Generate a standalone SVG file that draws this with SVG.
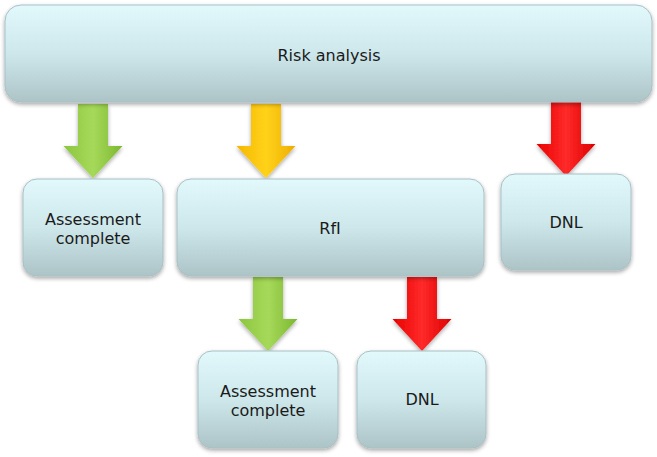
<svg xmlns="http://www.w3.org/2000/svg" width="657" height="457" viewBox="0 0 657 457">
<defs>
<linearGradient id="boxg" x1="0" y1="0" x2="0" y2="1">
<stop offset="0" stop-color="#e2f9fc"/>
<stop offset="0.5" stop-color="#cde7ea"/>
<stop offset="1" stop-color="#adc4c7"/>
</linearGradient>
<linearGradient id="green" x1="0" y1="0" x2="1" y2="0">
<stop offset="0" stop-color="#8cc63f"/>
<stop offset="0.5" stop-color="#a6d95a"/>
<stop offset="1" stop-color="#7cb82f"/>
</linearGradient>
<linearGradient id="yellow" x1="0" y1="0" x2="1" y2="0">
<stop offset="0" stop-color="#f5b800"/>
<stop offset="0.5" stop-color="#ffd21a"/>
<stop offset="1" stop-color="#eeae00"/>
</linearGradient>
<linearGradient id="red" x1="0" y1="0" x2="1" y2="0">
<stop offset="0" stop-color="#e80000"/>
<stop offset="0.5" stop-color="#ff2a2a"/>
<stop offset="1" stop-color="#dd0000"/>
</linearGradient>
<filter id="sh" x="-10%" y="-10%" width="120%" height="130%">
<feGaussianBlur in="SourceAlpha" stdDeviation="2"/>
<feOffset dx="0" dy="2" result="b"/>
<feComponentTransfer><feFuncA type="linear" slope="0.35"/></feComponentTransfer>
<feMerge><feMergeNode/><feMergeNode in="SourceGraphic"/></feMerge>
</filter>
<path id="arrow" d="M-15,0 H15 V42 H29.5 L0,74 L-29.5,42 H-15 Z"/>
</defs>
<style>
.box{fill:url(#boxg);stroke:#a9c0c4;stroke-width:1;filter:url(#sh)}
.t{font-family:"DejaVu Sans",Verdana,sans-serif;font-size:16px;fill:#1a1a1a;text-anchor:middle}
</style>
<g id="connectors">
<use href="#arrow" x="93" y="104" fill="url(#green)" filter="url(#sh)"/>
<use href="#arrow" x="266" y="104" fill="url(#yellow)" filter="url(#sh)"/>
<use href="#arrow" x="566" y="102" fill="url(#red)" filter="url(#sh)"/>
<use href="#arrow" x="268" y="277" fill="url(#green)" filter="url(#sh)"/>
<use href="#arrow" x="422" y="277" fill="url(#red)" filter="url(#sh)"/>
</g>
<g id="risk">
<rect class="box" x="5" y="5" width="647" height="97" rx="16"/>
<text class="t" x="329" y="61">Risk analysis</text>
</g>
<g id="assess1">
<rect class="box" x="23" y="179" width="140" height="97" rx="14"/>
<text class="t" x="93" y="225">Assessment</text>
<text class="t" x="93" y="244">complete</text>
</g>
<g id="rfi">
<rect class="box" x="177" y="179" width="307" height="97" rx="14"/>
<text class="t" x="330" y="234">RfI</text>
</g>
<g id="dnl1">
<rect class="box" x="501" y="174" width="130" height="96" rx="14"/>
<text class="t" x="566" y="228">DNL</text>
</g>
<g id="assess2">
<rect class="box" x="198" y="351" width="140" height="97" rx="14"/>
<text class="t" x="268" y="397">Assessment</text>
<text class="t" x="268" y="416">complete</text>
</g>
<g id="dnl2">
<rect class="box" x="357" y="351" width="129" height="97" rx="14"/>
<text class="t" x="422" y="405">DNL</text>
</g>
</svg>
